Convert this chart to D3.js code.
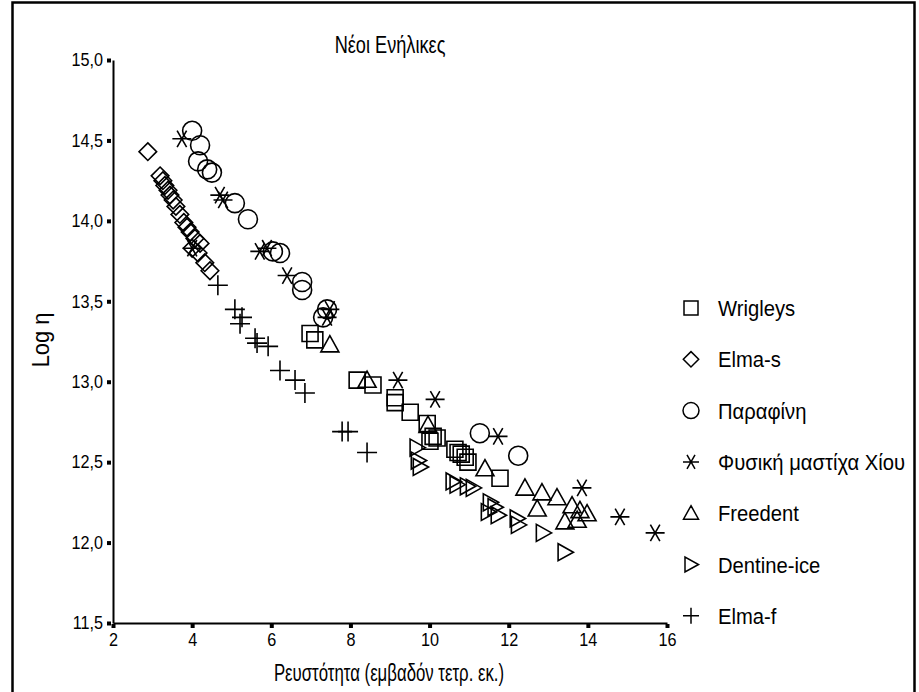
<!DOCTYPE html>
<html>
<head>
<meta charset="utf-8">
<script src="https://cdn.jsdelivr.net/npm/d3@7"></script>
<style>
  body { margin: 0; background: #fff; }
  svg text { font-family: "Liberation Sans", Arial, sans-serif; fill: #000; }
</style>
</head>
<body>
<svg id="chart" width="919" height="692"></svg>
<script>
// --- data ---
const seriesNames = ["Wrigleys", "Elma-s", "Παραφίνη", "Φυσική μαστίχα Χίου", "Freedent", "Dentine-ice", "Elma-f"];

const wrigleysX = [6.98, 7.10, 8.17, 8.57, 9.13, 9.13, 9.51, 9.94, 10.09, 10.19, 10.01, 10.64, 10.72, 10.80, 10.90, 10.97, 11.78];
const wrigleysY = [13.30, 13.26, 13.01, 12.98, 12.90, 12.87, 12.81, 12.74, 12.66, 12.65, 12.63, 12.58, 12.56, 12.55, 12.53, 12.50, 12.40];

const elmaSX = [2.88, 3.19, 3.26, 3.31, 3.39, 3.44, 3.52, 3.59, 3.69, 3.79, 3.87, 3.95, 4.07, 4.20, 4.00, 4.15, 4.32, 4.45];
const elmaSY = [14.43, 14.28, 14.25, 14.22, 14.19, 14.16, 14.13, 14.09, 14.04, 13.99, 13.96, 13.93, 13.89, 13.86, 13.83, 13.80, 13.74, 13.69];

const parafX = [4.00, 4.20, 4.15, 4.38, 4.50, 5.08, 5.41, 6.04, 6.22, 6.78, 6.78, 7.41, 7.31, 11.27, 12.24];
const parafY = [14.56, 14.47, 14.37, 14.32, 14.30, 14.11, 14.01, 13.81, 13.80, 13.62, 13.57, 13.45, 13.40, 12.68, 12.54];

const mastixaX = [3.74, 4.00, 4.70, 4.78, 5.71, 5.89, 6.40, 7.41, 7.48, 9.20, 10.14, 11.73, 13.85, 14.81, 15.70];
const mastixaY = [14.51, 13.83, 14.16, 14.13, 13.81, 13.83, 13.66, 13.40, 13.45, 13.01, 12.89, 12.66, 12.34, 12.16, 12.06];

const freedentX = [7.48, 8.42, 9.96, 11.40, 12.41, 12.84, 13.22, 12.72, 13.60, 13.80, 13.98, 13.42, 13.73];
const freedentY = [13.23, 13.01, 12.73, 12.46, 12.34, 12.31, 12.28, 12.21, 12.23, 12.20, 12.18, 12.13, 12.14];

const dentineX = [9.68, 9.71, 9.76, 10.59, 10.69, 10.95, 11.10, 11.53, 11.65, 11.48, 11.73, 12.21, 12.24, 12.87, 13.42];
const dentineY = [12.59, 12.51, 12.47, 12.38, 12.36, 12.35, 12.34, 12.25, 12.22, 12.19, 12.17, 12.15, 12.11, 12.06, 11.94];

const elmaFX = [4.65, 5.08, 5.26, 5.21, 5.59, 5.64, 5.92, 6.22, 6.60, 6.85, 7.79, 7.94, 8.42];
const elmaFY = [13.60, 13.45, 13.40, 13.36, 13.27, 13.24, 13.22, 13.07, 13.01, 12.93, 12.69, 12.69, 12.56];

const xTicks = [2, 4, 6, 8, 10, 12, 14, 16];
const yTicks = [11.5, 12.0, 12.5, 13.0, 13.5, 14.0, 14.5, 15.0];

// --- custom marker shapes (d3.symbol types) ---
const symSquare = { draw(c, s) { const h = Math.sqrt(s) / 2; c.rect(-h, -h, 2 * h, 2 * h); } };
const symDiamond = { draw(c, s) { const h = Math.sqrt(s) / 2 * 1.1; c.moveTo(0, -h); c.lineTo(h, 0); c.lineTo(0, h); c.lineTo(-h, 0); c.closePath(); } };
const symCircle = { draw(c, s) { const r = Math.sqrt(s) / 2; c.moveTo(r, 0); c.arc(0, 0, r, 0, 2 * Math.PI); } };
const symStar = { draw(c, s) {
  const r = Math.sqrt(s) / 2;
  for (const a of [0, Math.PI / 3, 2 * Math.PI / 3]) {
    const dx = r * Math.cos(a), dy = r * Math.sin(a);
    c.moveTo(-dx, -dy); c.lineTo(dx, dy);
  }
} };
const symTriUp = { draw(c, s) { const h = Math.sqrt(s) / 2; c.moveTo(0, -h); c.lineTo(h, h * 0.8); c.lineTo(-h, h * 0.8); c.closePath(); } };
const symTriRight = { draw(c, s) { const h = Math.sqrt(s) / 2; c.moveTo(h, 0); c.lineTo(-h * 0.8, h); c.lineTo(-h * 0.8, -h); c.closePath(); } };
const symPlus = { draw(c, s) { const h = Math.sqrt(s) / 2; c.moveTo(-h, 0); c.lineTo(h, 0); c.moveTo(0, -h); c.lineTo(0, h); } };

const shapes = [symSquare, symDiamond, symCircle, symStar, symTriUp, symTriRight, symPlus];
const sizes = [16 * 16, 16 * 16, 19 * 19, 19 * 19, 18 * 18, 17 * 17, 20 * 20];
const legendSizes = [14 * 14, 14 * 14, 16 * 16, 16 * 16, 15 * 15, 15 * 15, 16 * 16];

const allX = [wrigleysX, elmaSX, parafX, mastixaX, freedentX, dentineX, elmaFX];
const allY = [wrigleysY, elmaSY, parafY, mastixaY, freedentY, dentineY, elmaFY];

const series = seriesNames.map((name, i) => ({
  name,
  shape: shapes[i],
  points: allX[i].map((x, j) => ({ x, y: allY[i][j] }))
}));

const svg = d3.select("#chart");

// the original uses a condensed face, so squeeze the text horizontally
function narrowText(parent, px, py, txt, size, sx, anchor, rot) {
  return parent.append("text")
    .attr("transform", `translate(${px},${py})` + (rot ? ` rotate(${rot})` : "") + ` scale(${sx},1)`)
    .attr("text-anchor", anchor)
    .attr("font-size", size)
    .text(txt);
}

// outer frame
svg.append("rect")
  .attr("x", 12.5).attr("y", 2.5)
  .attr("width", 902).attr("height", 720)
  .attr("fill", "none").attr("stroke", "#000").attr("stroke-width", 2.5);

const plot = { left: 113, right: 667, top: 60, bottom: 623 };

const x = d3.scaleLinear().domain([2, 16]).range([plot.left, plot.right]);
const y = d3.scaleLinear().domain([11.5, 15]).range([plot.bottom, plot.top]);

// axes
const tickSx = 0.9;
const xAxis = d3.axisBottom(x).tickValues(xTicks).tickSize(0).tickPadding(10).tickFormat(d3.format("d"));
const yAxis = d3.axisLeft(y).tickValues(yTicks).tickSize(0).tickPadding(10 / tickSx)
  .tickFormat(d => d3.format(".1f")(d).replace(".", ","));

const gx = svg.append("g").attr("transform", `translate(0,${plot.bottom})`).call(xAxis);
const gy = svg.append("g").attr("transform", `translate(${plot.left},0)`).call(yAxis);

[gx, gy].forEach(g => {
  g.attr("font-family", null);
  g.select(".domain").attr("stroke", "#000").attr("stroke-width", 2);
  g.selectAll(".tick text").attr("font-size", 18).attr("transform", `scale(${tickSx},1)`);
});

// square tick marks
gx.selectAll(".tick").append("rect")
  .attr("x", -2).attr("y", 1).attr("width", 4).attr("height", 4).attr("fill", "#000");
gy.selectAll(".tick").append("rect")
  .attr("x", -6).attr("y", -2).attr("width", 4).attr("height", 4).attr("fill", "#000");

// titles
narrowText(svg, 390, 53, "Νέοι Ενήλικες", 23, 0.79, "middle");
narrowText(svg, 389, 681, "Ρευστότητα (εμβαδόν τετρ. εκ.)", 23, 0.73, "middle");
narrowText(svg, 49, 340, "Log η", 23, 0.95, "middle", -90);

// points
const symbol = d3.symbol();
series.forEach((s, i) => {
  svg.append("g")
    .selectAll("path")
    .data(s.points)
    .join("path")
    .attr("transform", d => `translate(${x(d.x)},${y(d.y)})`)
    .attr("d", symbol.type(s.shape).size(sizes[i])())
    .attr("fill", "none")
    .attr("stroke", "#000")
    .attr("stroke-width", 1.6);
});

// legend
const legend = svg.append("g").attr("transform", "translate(691,308)");
const rowStep = 51.3;
series.forEach((s, i) => {
  const row = legend.append("g").attr("transform", `translate(0,${i * rowStep})`);
  row.append("path")
    .attr("d", symbol.type(s.shape).size(legendSizes[i])())
    .attr("fill", "none").attr("stroke", "#000").attr("stroke-width", 1.5);
  narrowText(row, 27, 8, s.name, 22, 0.92, "start");
});
</script>
</body>
</html>
